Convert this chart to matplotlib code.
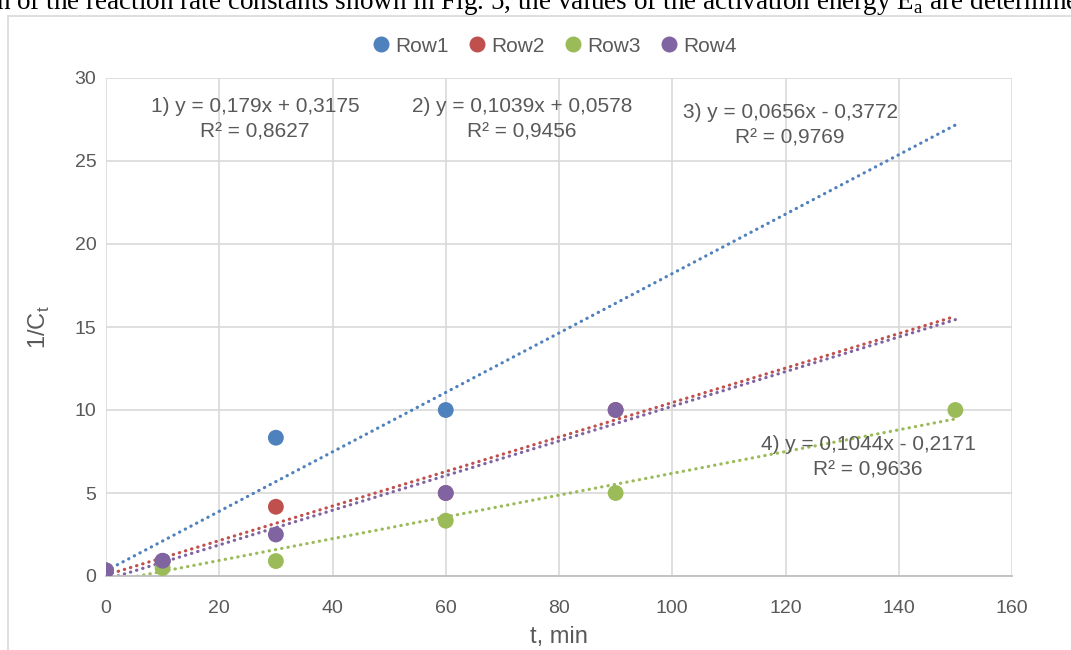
import matplotlib
matplotlib.use("Agg")
import matplotlib.pyplot as plt
from matplotlib.lines import Line2D

# data
row1_x = [0, 10, 30, 60]
row1_y = [0.33, 0.9, 8.33, 10]
row2_x = [0, 10, 30, 60, 90]
row2_y = [0.33, 0.9, 4.17, 5, 10]
row3_x = [0, 10, 30, 60, 90, 150]
row3_y = [0.33, 0.48, 0.9, 3.33, 5, 10]
row4_x = [0, 10, 30, 60, 90]
row4_y = [0.33, 0.92, 2.5, 5, 10]

# trendline coefficients from the labels (slope, intercept)
fits = {"Row1": (0.179, 0.3175), "Row2": (0.1039, 0.0578),
        "Row3": (0.0656, -0.3772), "Row4": (0.1044, -0.2171)}
fit_x = [0, 150]

labels = ["1) y = 0,179x + 0,3175\nR² = 0,8627",
          "2) y = 0,1039x + 0,0578\nR² = 0,9456",
          "3) y = 0,0656x - 0,3772\nR² = 0,9769",
          "4) y = 0,1044x - 0,2171\nR² = 0,9636"]
label_pos = [(26.3, 27.5), (73.5, 27.5), (120.8, 27.15), (134.6, 7.15)]

colors = {"Row1": "#4F81BD", "Row2": "#C0504D", "Row3": "#9BBB59", "Row4": "#8064A2"}
txt = "#595959"

plt.rcParams['font.family'] = ['Liberation Sans', 'DejaVu Sans']

fig = plt.figure(figsize=(10.71, 6.5), dpi=100)
ax = fig.add_axes([106/1071, 1-576/650, (1012-106)/1071, (576-78)/650])

# trendlines first, points on top
for name, (m, b) in fits.items():
    ax.plot(fit_x, [m*x + b for x in fit_x], color=colors[name], lw=2.3,
            linestyle=(0, (0.1, 1.9)), dash_capstyle="round", zorder=2)

series = [("Row1", row1_x, row1_y), ("Row2", row2_x, row2_y),
          ("Row3", row3_x, row3_y), ("Row4", row4_x, row4_y)]
for name, xs, ys in series:
    ax.scatter(xs, ys, s=130, color=colors[name], edgecolors="none", zorder=3)

for lab, (lx, ly) in zip(labels, label_pos):
    ax.text(lx, ly, lab, ha="center", va="center", multialignment="center",
            fontsize=15, color=txt, linespacing=1.45, zorder=4)

ax.set_xlim(0, 160)
ax.set_ylim(0, 30)
ax.set_xticks(range(0, 161, 20))
ax.set_yticks(range(0, 31, 5))
ax.grid(True, color="#d9d9d9", lw=1.2)
ax.set_axisbelow(True)
for s in ["top", "right", "left"]:
    ax.spines[s].set_visible(False)
ax.spines["bottom"].set_color("#bfbfbf")
ax.spines["bottom"].set_linewidth(1.3)
ax.tick_params(length=0, labelsize=14, colors=txt)
ax.tick_params(axis="x", pad=17)
ax.tick_params(axis="y", pad=7)
ax.set_xlabel("t, min", fontsize=17, color=txt, labelpad=7)
ax.set_ylabel("1/C$_\\mathregular{t}$", fontsize=17, color=txt, labelpad=16)

handles = [Line2D([], [], marker="o", ls="none", ms=10.5, color=colors[n], label=n)
           for n in colors]
fig.legend(handles=handles, loc="center", bbox_to_anchor=(0.517, 1-46/650), ncol=4,
           frameon=False, fontsize=15, handlelength=1.0, handletextpad=0.2,
           columnspacing=0.85, labelcolor=txt)

# surrounding document text and chart frame
fig.text(-0.004, 1-9/650, "n of the reaction rate constants shown in Fig. 5, the values of the activation energy E$_\\mathregular{a}$ are determined",
         family=["Liberation Serif"], fontsize=19.5, color="black", va="baseline")
fig.add_artist(Line2D([8/1071, 8/1071], [0, 1-16/650], transform=fig.transFigure,
                      color="#d9d9d9", lw=1.2))
fig.add_artist(Line2D([8/1071, 1], [1-16/650, 1-16/650], transform=fig.transFigure,
                      color="#d9d9d9", lw=1.2))

fig.savefig("out.png", dpi=100)
